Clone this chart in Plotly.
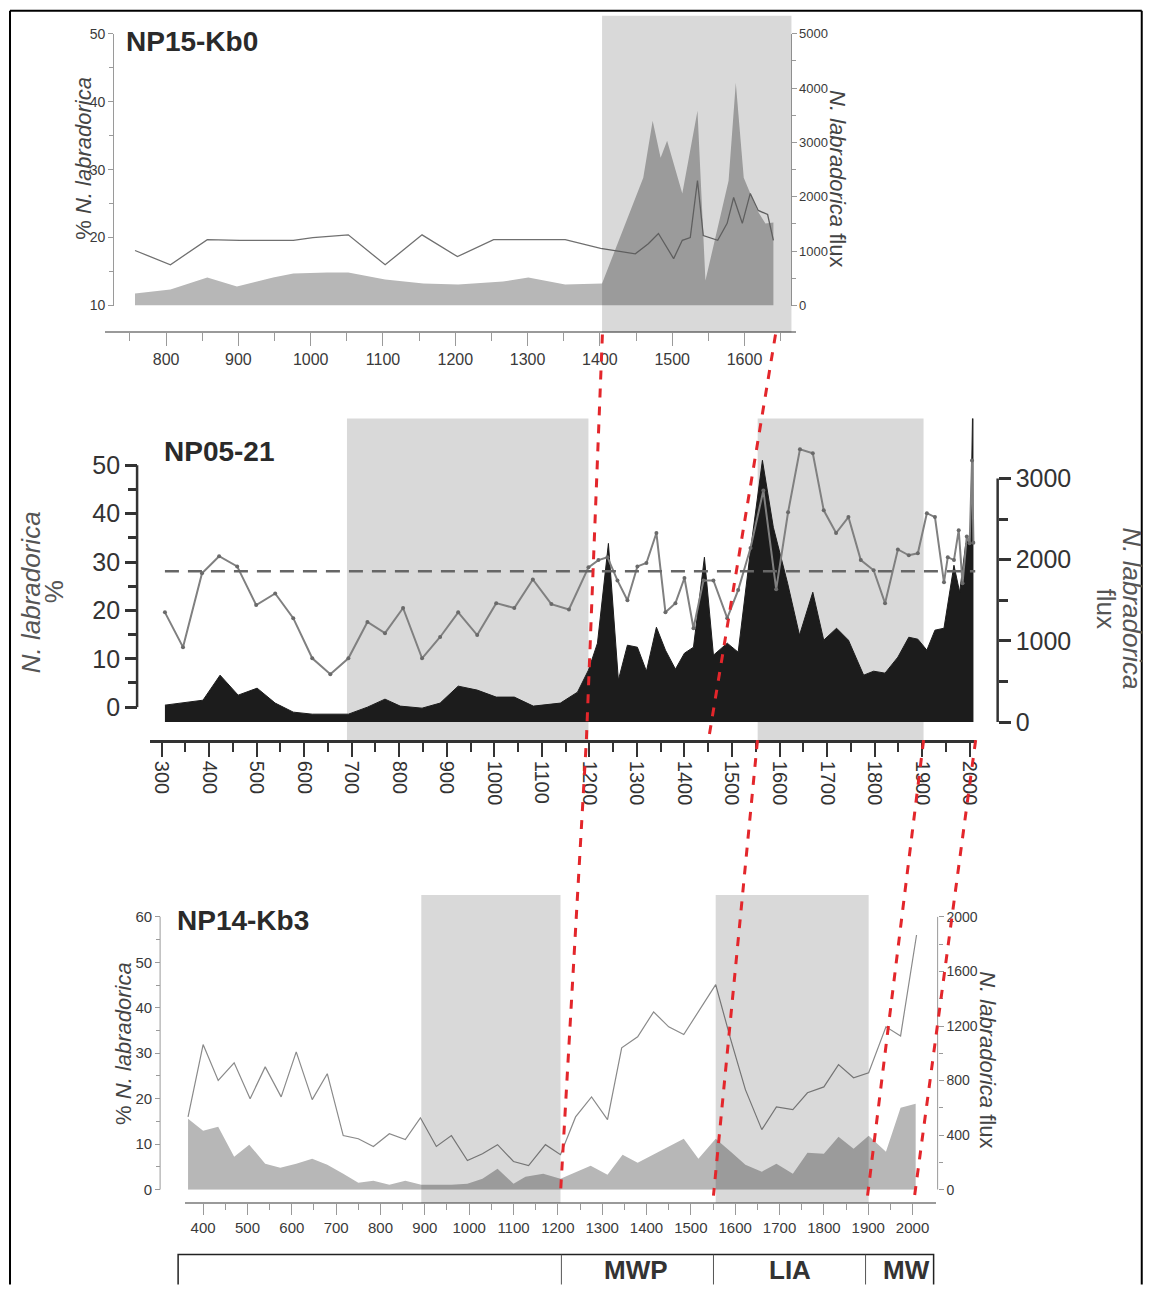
import plotly.graph_objects as go

W, H = 1150, 1299
# the photographed page maps figure pixels (x, y) to (SX*x, OY + SY*y);
# positions below are given in target-picture pixels and converted back.
SX, SY, OY = 0.995, 0.984, 7.2


def fx(px):
    return (px / SX) / W


def fy(py):
    return 1 - ((py - OY) / SY) / H


SANS = "Liberation Sans, Arial, sans-serif"

# ---------------- data ----------------
# NP15-Kb0
p1_pct_year = [757, 806, 857, 902, 976, 1003, 1052, 1103, 1154, 1203, 1253, 1352, 1401, 1449, 1467,
               1481, 1502, 1514, 1525, 1535, 1543, 1563, 1576, 1585, 1597, 1608, 1619, 1632, 1640]
p1_pct = [18.1, 16.0, 19.7, 19.6, 19.6, 20.0, 20.4, 16.0, 20.4, 17.2, 19.7, 19.7, 18.4, 17.6, 19.1,
          20.6, 16.9, 19.6, 20.0, 28.4, 20.3, 19.6, 22.1, 25.9, 22.1, 26.5, 24.0, 23.4, 19.6]
p1_flux_year = [757, 806, 857, 898, 948, 976, 1023, 1052, 1103, 1156, 1204, 1266, 1301, 1352, 1403,
                1460, 1473, 1484, 1493, 1514, 1535, 1546, 1578, 1588, 1599, 1618, 1629, 1640]
p1_flux = [220, 294, 515, 350, 515, 588, 607, 607, 478, 404, 386, 441, 515, 386, 404,
           2353, 3400, 2720, 3033, 2060, 3585, 460, 2298, 4100, 2353, 1746, 1507, 1526]

# NP05-21
p2_pct_year = [307, 345, 385, 421, 459, 499, 539, 577, 617, 655, 693, 733, 770, 808, 848, 886, 924,
               964, 1004, 1042, 1081, 1120, 1157, 1198, 1219, 1238, 1259, 1280, 1301, 1320, 1341,
               1360, 1381, 1400, 1419, 1440, 1461, 1490, 1513, 1539, 1566, 1593, 1618, 1643, 1670,
               1693, 1719, 1745, 1771, 1798, 1822, 1849, 1872, 1891, 1910, 1927, 1946, 1954, 1967,
               1977, 1985, 1994, 2000, 2005, 2008]
p2_pct = [19.6, 12.4, 27.7, 31.2, 29.1, 21.1, 23.5, 18.4, 10.1, 6.8, 10.1, 17.6, 15.3, 20.5, 10.1,
          14.5, 19.6, 14.9, 21.5, 20.5, 26.4, 21.3, 20.2, 28.9, 30.4, 31.0, 26.2, 22.1, 29.1, 29.8,
          36.0, 19.6, 21.5, 26.7, 16.3, 26.2, 26.2, 18.4, 24.2, 32.9, 44.8, 24.4, 40.3, 53.3, 52.5,
          40.7, 36.0, 39.3, 30.4, 28.3, 21.5, 32.6, 31.4, 31.8, 40.1, 39.3, 25.8, 31.0, 30.4, 36.6,
          25.6, 35.3, 33.9, 51.0, 34.0]
p2_flux_year = [307, 339, 387, 423, 461, 501, 539, 577, 617, 693, 733, 770, 802, 848, 886, 924, 964,
                1004, 1042, 1082, 1139, 1175, 1198, 1217, 1240, 1261, 1280, 1301, 1320, 1341, 1360,
                1381, 1400, 1419, 1442, 1461, 1490, 1513, 1539, 1564, 1587, 1617, 1642, 1670, 1693,
                1720, 1745, 1777, 1798, 1822, 1849, 1872, 1891, 1910, 1927, 1946, 1967, 1979, 1992,
                2002, 2008]
p2_flux = [209, 234, 270, 578, 332, 418, 234, 123, 98, 98, 184, 283, 197, 172, 234, 443, 394, 308,
           308, 197, 234, 369, 640, 972, 2200, 517, 947, 922, 627, 1168, 886, 652, 849, 922, 2030,
           824, 972, 861, 2116, 3223, 2398, 1710, 1070, 1599, 1009, 1156, 1009, 578, 627, 603, 800,
           1045, 1021, 886, 1132, 1156, 1931, 1599, 2202, 2276, 4500]
p2_mean_pct = 28.1

# NP14-Kb3
p3_pct_year = [366, 400, 434, 470, 506, 540, 576, 610, 646, 680, 716, 750, 784, 820, 856, 890, 926,
               960, 996, 1030, 1064, 1100, 1134, 1172, 1206, 1240, 1276, 1312, 1344, 1380, 1416,
               1450, 1484, 1556, 1590, 1623, 1660, 1693, 1730, 1763, 1800, 1833, 1867, 1901, 1940,
               1973, 2009]
p3_pct = [16.0, 31.9, 24.0, 27.9, 20.0, 27.0, 20.4, 30.3, 19.8, 25.5, 11.9, 11.2, 9.5, 12.3, 11.0,
          15.8, 9.5, 11.9, 6.4, 7.9, 9.9, 6.2, 5.3, 9.9, 7.7, 16.0, 20.4, 15.4, 31.2, 33.6, 39.1,
          35.8, 34.1, 45.1, 33.0, 22.0, 13.2, 18.2, 17.6, 21.3, 22.6, 27.5, 24.6, 25.7, 35.8, 33.8,
          56.0]
p3_flux_year = [366, 400, 434, 470, 504, 540, 574, 610, 646, 680, 716, 750, 784, 820, 856, 892, 926,
                960, 996, 1030, 1064, 1100, 1127, 1167, 1206, 1274, 1312, 1346, 1380, 1414, 1447,
                1484, 1517, 1556, 1590, 1623, 1660, 1693, 1730, 1763, 1800, 1833, 1867, 1901, 1940,
                1973, 2007]
p3_flux = [520, 432, 462, 242, 330, 190, 161, 190, 227, 183, 117, 51, 66, 37, 66, 37, 37, 37, 44, 80,
           154, 44, 95, 117, 80, 176, 110, 256, 198, 256, 315, 374, 227, 374, 278, 183, 132, 190,
           117, 271, 264, 388, 300, 396, 278, 601, 630]

# shaded intervals (years)
p1_shades = [(1403, 1665)]
p2_shades = [(690, 1198), (1554, 1903)]
p3_shades = [(892, 1206), (1556, 1901)]

# climate periods
period_labels = ["MWP", "LIA", "MW"]
period_edges = [1208, 1551, 1894]

# tick labels
p1_xticks = list(range(800, 1700, 100))
p2_xticks = list(range(300, 2100, 100))
p3_xticks = list(range(400, 2100, 100))

# ---------------- figure ----------------
AREA = "#b7b7b7"
fig = go.Figure()

# panel 1
fig.add_trace(go.Scatter(x=p1_flux_year, y=p1_flux, xaxis="x", yaxis="y", mode="lines",
                         fill="tozeroy", fillcolor=AREA, line=dict(width=0, color=AREA),
                         hoverinfo="skip", showlegend=False))
fig.add_trace(go.Scatter(x=p1_pct_year, y=p1_pct, xaxis="x", yaxis="y2", mode="lines",
                         line=dict(width=1.3, color="#707070"), showlegend=False))
# panel 2
fig.add_trace(go.Scatter(x=p2_flux_year, y=p2_flux, xaxis="x2", yaxis="y3", mode="lines",
                         fill="tozeroy", fillcolor="#1c1c1c", line=dict(width=1, color="#1c1c1c"),
                         showlegend=False))
fig.add_trace(go.Scatter(x=p2_pct_year, y=p2_pct, xaxis="x2", yaxis="y4", mode="lines+markers",
                         line=dict(width=2, color="#808080"), marker=dict(size=4, color="#6a6a6a"),
                         showlegend=False))
# panel 3
fig.add_trace(go.Scatter(x=p3_flux_year, y=p3_flux, xaxis="x3", yaxis="y5", mode="lines",
                         fill="tozeroy", fillcolor=AREA, line=dict(width=0, color=AREA),
                         showlegend=False))
fig.add_trace(go.Scatter(x=p3_pct_year, y=p3_pct, xaxis="x3", yaxis="y6", mode="lines",
                         line=dict(width=1.2, color="#8a8a8a"), showlegend=False))


def tfont(size, family=SANS, color="#3a3a3a"):
    return dict(size=size, family=family, color=color)


common = dict(showgrid=False, zeroline=False, fixedrange=True)

fig.update_layout(
    width=W, height=H, margin=dict(l=0, r=0, t=0, b=0), autosize=False,
    paper_bgcolor="white", plot_bgcolor="rgba(0,0,0,0)", showlegend=False,
    # ---- panel 1
    xaxis=dict(domain=[fx(105), fx(795)], range=[715.6, 1670.6], anchor="free", position=fy(332),
               showline=True, linecolor="#9a9a9a", linewidth=1.5, ticks="outside", ticklen=13,
               tickcolor="#9a9a9a", tickvals=p1_xticks, tickangle=0, tickfont=tfont(16),
               minor=dict(tickmode="array", tickvals=list(range(750, 1700, 100)), ticks="outside",
                          ticklen=8, tickcolor="#9a9a9a"), **common),
    yaxis=dict(domain=[fy(305), fy(33)], range=[0, 5000], side="right", anchor="free",
               position=fx(790), showline=True, linecolor="#9a9a9a", linewidth=1, ticks="outside",
               ticklen=5, tickcolor="#9a9a9a", tickvals=list(range(0, 6000, 1000)),
               tickfont=tfont(13),
               minor=dict(tickmode="array", tickvals=list(range(500, 5000, 1000)), ticks="outside",
                          ticklen=4, tickcolor="#9a9a9a"), **common),
    yaxis2=dict(overlaying="y", range=[10, 50], side="left", anchor="free", position=fx(113),
                showline=True, linecolor="#9a9a9a", linewidth=1, ticks="outside", ticklen=5,
                tickcolor="#9a9a9a", tickvals=list(range(10, 60, 10)), tickfont=tfont(14),
                minor=dict(tickmode="array", tickvals=list(range(15, 50, 10)), ticks="outside",
                           ticklen=4, tickcolor="#9a9a9a"), **common),
    # ---- panel 2
    xaxis2=dict(domain=[fx(150), fx(975)], range=[275.8, 2012.6], anchor="free", position=fy(741),
                showline=True, linecolor="#333333", linewidth=2.5, ticks="outside", ticklen=14,
                tickwidth=2, tickcolor="#333333", tickvals=p2_xticks, tickangle=90,
                tickfont=tfont(20, SANS, "#333333"),
                minor=dict(tickmode="array", tickvals=list(range(350, 2000, 100)), ticks="outside",
                           ticklen=9, tickwidth=2, tickcolor="#333333"), **common),
    yaxis3=dict(domain=[fy(722), fy(418)], range=[0, 3739], side="right", anchor="free",
                position=fx(997), showline=False, ticks="outside", ticklen=12, tickwidth=2.5,
                tickcolor="#333333", tickvals=list(range(0, 4000, 1000)),
                tickfont=tfont(25, SANS, "#333333"),
                minor=dict(tickmode="array", tickvals=list(range(500, 3000, 1000)),
                           ticks="outside", ticklen=9, tickwidth=2.5, tickcolor="#333333"), **common),
    yaxis4=dict(overlaying="y3", range=[-3.1, 59.7], side="left", anchor="free", position=fx(137),
                showline=False, ticks="outside", ticklen=12, tickwidth=2.5, tickcolor="#333333",
                tickvals=list(range(0, 60, 10)), tickfont=tfont(25, SANS, "#333333"),
                minor=dict(tickmode="array", tickvals=list(range(5, 50, 10)), ticks="outside",
                           ticklen=9, tickwidth=2.5, tickcolor="#333333"), **common),
    # ---- panel 3
    xaxis3=dict(domain=[fx(185), fx(935)], range=[359.4, 2052], anchor="free", position=fy(1203),
                showline=True, linecolor="#9a9a9a", linewidth=1.5, ticks="outside", ticklen=12,
                tickcolor="#9a9a9a", tickvals=p3_xticks, tickangle=0, tickfont=tfont(15),
                minor=dict(tickmode="array", tickvals=list(range(450, 2000, 100)), ticks="outside",
                           ticklen=7, tickcolor="#9a9a9a"), **common),
    yaxis5=dict(domain=[fy(1190), fy(895)], range=[0, 2161], side="right", anchor="free",
                position=fx(937), showline=False, ticks="outside", ticklen=5, tickcolor="#9a9a9a",
                tickvals=list(range(0, 2400, 400)), tickfont=tfont(14),
                minor=dict(tickmode="array", tickvals=list(range(200, 2000, 400)), ticks="outside",
                           ticklen=4, tickcolor="#9a9a9a"), **common),
    yaxis6=dict(overlaying="y5", range=[0, 64.8], side="left", anchor="free", position=fx(160),
                showline=False, ticks="outside", ticklen=5, tickcolor="#9a9a9a",
                tickvals=list(range(0, 70, 10)), tickfont=tfont(15),
                minor=dict(tickmode="array", tickvals=list(range(5, 60, 10)), ticks="outside",
                           ticklen=4, tickcolor="#9a9a9a"), **common),
)

shapes = []
# shaded intervals
for a, b in p2_shades:
    shapes.append(dict(type="rect", xref="x2", yref="paper", x0=a, x1=b, y0=fy(740), y1=fy(418),
                       fillcolor="#d9d9d9", line=dict(width=0), layer="below"))
for a, b in p1_shades:
    shapes.append(dict(type="rect", xref="x", yref="paper", x0=a, x1=b, y0=fy(332), y1=fy(15),
                       fillcolor="rgba(0,0,0,0.15)", line=dict(width=0), layer="above"))
for a, b in p3_shades:
    shapes.append(dict(type="rect", xref="x3", yref="paper", x0=a, x1=b, y0=fy(1203), y1=fy(895),
                       fillcolor="rgba(0,0,0,0.15)", line=dict(width=0), layer="above"))

# mean line in NP05-21
shapes.append(dict(type="line", xref="x2", yref="y4", x0=p2_pct_year[0], x1=2012,
                   y0=p2_mean_pct, y1=p2_mean_pct,
                   line=dict(color="#666666", width=2.5, dash="14px,9px"), layer="above"))

# axis spines drawn over their labelled span only
shapes.append(dict(type="line", xref="paper", yref="y4", x0=fx(137), x1=fx(137), y0=0, y1=50,
                   line=dict(color="#333333", width=2.5)))
shapes.append(dict(type="line", xref="paper", yref="y3", x0=fx(997), x1=fx(997), y0=0, y1=3000,
                   line=dict(color="#333333", width=2.5)))
shapes.append(dict(type="line", xref="paper", yref="y6", x0=fx(160), x1=fx(160), y0=0, y1=60,
                   line=dict(color="#9a9a9a", width=1)))
shapes.append(dict(type="line", xref="paper", yref="y5", x0=fx(937), x1=fx(937), y0=0, y1=2000,
                   line=dict(color="#9a9a9a", width=1)))

# red dashed correlation lines (pixel paths)
red_paths = [
    [(602, 334), (586, 740), (560, 1196)],
    [(775, 334), (708, 740)],
    [(757, 740), (713, 1196)],
    [(923, 740), (867, 1196)],
    [(975, 740), (914, 1196)],
]
for pts in red_paths:
    d = "M " + " L ".join(f"{fx(px):.5f},{fy(py):.5f}" for px, py in pts)
    shapes.append(dict(type="path", xref="paper", yref="paper", path=d,
                       line=dict(color="#e3262b", width=3, dash="9px,9px"), layer="above"))

# period bar (open at the bottom edge)
BOTF = 0.0004  # paper y at the very bottom of the figure
shapes.append(dict(type="path", xref="paper", yref="paper",
                   path=(f"M {fx(178):.5f},{BOTF} L {fx(178):.5f},{fy(1255):.5f} "
                         f"L {fx(933):.5f},{fy(1255):.5f} L {fx(933):.5f},{BOTF}"),
                   line=dict(color="#222222", width=1.5)))
for e in period_edges:
    shapes.append(dict(type="line", xref="x3", yref="paper", x0=e, x1=e, y0=BOTF,
                       y1=fy(1255), line=dict(color="#555555", width=1)))

# outer frame
shapes.append(dict(type="line", xref="paper", yref="paper", x0=fx(10), x1=fx(1141),
                   y0=fy(10), y1=fy(10), line=dict(color="black", width=2)))
for xv in (10, 1141):
    shapes.append(dict(type="line", xref="paper", yref="paper", x0=fx(xv), x1=fx(xv),
                       y0=fy(10), y1=BOTF, line=dict(color="black", width=2)))

fig.update_layout(shapes=shapes)

ann = []


def add_text(text, px, py, size, family=SANS, color="#2a2a2a", angle=0, bold=False):
    if bold:
        text = f"<b>{text}</b>"
    ann.append(dict(text=text, x=fx(px), y=fy(py), xref="paper", yref="paper", showarrow=False,
                    xanchor="center", yanchor="middle", textangle=angle,
                    font=dict(size=size, family=family, color=color)))


add_text("NP15-Kb0", 192, 41, 28, bold=True)
add_text("NP05-21", 219, 451, 28, bold=True)
add_text("NP14-Kb3", 243, 921, 28, bold=True)

add_text("% <i>N. labradorica</i>", 84, 158, 22, color="#444444", angle=-90)
add_text("<i>N. labradorica</i> flux", 837, 178, 22, color="#444444", angle=90)
add_text("<i>N. labradorica</i>", 31, 592, 26, color="#555555", angle=-90)
add_text("%", 54, 592, 26, color="#555555", angle=-90)
add_text("<i>N. labradorica</i>", 1131, 608, 26, color="#555555", angle=90)
add_text("flux", 1105, 608, 26, color="#555555", angle=90)
add_text("% <i>N. labradorica</i>", 124, 1044, 22, color="#444444", angle=-90)
add_text("<i>N. labradorica</i> flux", 987, 1060, 22, color="#444444", angle=90)

for lab, px in zip(period_labels, [636, 789, 906]):
    add_text(lab, px, 1270, 26, color="#333333", bold=True)

fig.update_layout(annotations=ann)

PAGE_FIX = ("document.documentElement.style.overflow='hidden';"
            "document.body.style.margin='0';document.body.style.overflow='hidden';")
fig.write_html("out.html", config={"displayModeBar": False}, post_script=PAGE_FIX)
